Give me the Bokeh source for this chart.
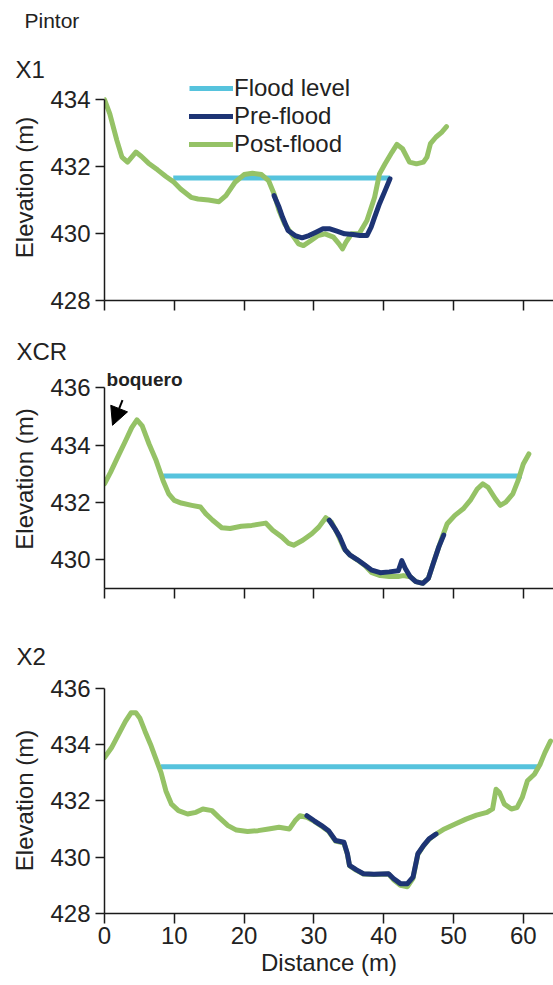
from bokeh.plotting import figure
from bokeh.models import (Range1d, FixedTicker, Legend, LegendItem, Label, Arrow, NormalHead, Title,
                          CustomLabelingPolicy)
from bokeh.layouts import column
from bokeh.embed import file_html
from bokeh.resources import INLINE

# ---------------- data ----------------
x1_post_x = [0, 0.76, 1.77, 2.5, 3.3, 4.5, 5.3, 6.3, 7.6, 8.8, 9.85, 10.9, 12.4, 13.4, 14.9, 16.4, 17.4, 18.7, 20.0, 21.2,
             22.5, 23.5, 24.3, 25.0, 25.8, 26.8, 27.8, 28.5, 29.6, 30.6, 31.6, 32.8, 33.6, 34.1, 34.6, 35.4, 36.5, 37.6, 38.7, 39.4,
             40.2, 41.2, 41.9, 42.7, 43.7, 44.7, 45.7, 46.2, 46.7, 47.5, 48.3, 49.0]
x1_post_y = [434.0, 433.57, 432.78, 432.28, 432.13, 432.43, 432.3, 432.1, 431.9, 431.7, 431.55, 431.33, 431.08, 431.03, 431.0, 430.95, 431.13, 431.53, 431.76, 431.8,
             431.76, 431.58, 431.18, 430.69, 430.29, 429.99, 429.69, 429.64, 429.79, 429.94, 429.99, 429.89, 429.69, 429.54, 429.74, 429.99, 430.0, 430.39, 431.08, 431.78,
             432.08, 432.43, 432.66, 432.53, 432.13, 432.08, 432.13, 432.28, 432.68, 432.88, 433.02, 433.19]
x1_pre_x = [24.3, 25.0, 25.5, 26.3, 27.3, 28.3, 29.3, 30.3, 31.3, 32.3, 33.3, 34.4, 35.6, 36.6, 37.6, 38.2, 38.7, 39.4, 40.2, 40.9]
x1_pre_y = [431.13, 430.79, 430.49, 430.09, 429.94, 429.87, 429.94, 430.04, 430.14, 430.14, 430.07, 429.99, 429.97, 429.94, 429.94, 430.19, 430.49, 430.89, 431.28, 431.63]
x1_flood_x = [9.85, 40.9]
x1_flood_y = [431.66, 431.66]

xcr_post_x = [0, 0.86, 1.87, 2.9, 3.9, 4.65, 5.4, 6.4, 7.4, 8.4, 9.2, 10.0, 11.0, 12.5, 13.75, 14.5, 15.5, 16.8, 18.0, 19.6,
              21.1, 23.1, 24.1, 25.4, 26.4, 27.1, 28.4, 29.7, 30.7, 31.7, 32.5, 33.3, 34.3, 35.2, 36.2, 37.3, 38.3, 39.5, 40.8, 42.1,
              42.8, 43.8, 44.6, 45.6, 46.4, 47.1, 47.9, 48.4, 49.1, 50.2, 51.4, 52.4, 53.4, 54.2, 54.95, 56.0, 56.7, 57.5, 58.5, 59.25,
              60.0, 60.8]
xcr_post_y = [432.65, 433.05, 433.57, 434.09, 434.61, 434.88, 434.67, 434.03, 433.46, 432.76, 432.3, 432.07, 431.98, 431.9, 431.84, 431.61, 431.38, 431.12, 431.09, 431.17,
              431.2, 431.28, 431.03, 430.8, 430.57, 430.51, 430.68, 430.91, 431.14, 431.47, 431.32, 430.95, 430.4, 430.16, 430.0, 429.8, 429.55, 429.45, 429.42, 429.42,
              429.45, 429.41, 429.24, 429.18, 429.35, 429.87, 430.45, 430.8, 431.26, 431.55, 431.78, 432.07, 432.47, 432.65, 432.53, 432.13, 431.9, 432.01, 432.3, 432.76,
              433.34, 433.69]
xcr_pre_x = [32.2, 33.0, 33.7, 34.5, 35.2, 36.2, 37.3, 38.3, 39.5, 40.8, 42.1, 42.6, 43.1, 43.8, 44.6, 45.6, 46.4, 47.1, 47.9, 48.6]
xcr_pre_y = [431.38, 431.09, 430.8, 430.34, 430.16, 430.01, 429.82, 429.64, 429.55, 429.58, 429.62, 429.97, 429.7, 429.41, 429.24, 429.18, 429.35, 429.87, 430.45, 430.86]
xcr_flood_x = [8.4, 59.8]
xcr_flood_y = [432.92, 432.92]

x2_post_x = [0, 1.0, 2.0, 3.0, 3.8, 4.5, 5.05, 5.8, 6.6, 7.3, 8.1, 8.8, 9.6, 10.6, 11.9, 13.1, 14.1, 15.4, 16.4, 17.7,
             18.9, 20.5, 22.0, 23.5, 25.0, 26.5, 27.3, 28.0, 29.0, 30.05, 31.1, 32.1, 33.1, 34.3, 34.8, 35.1, 36.1, 37.1, 38.6, 40.7,
             41.4, 42.4, 43.4, 44.2, 44.9, 45.7, 46.5, 47.5, 48.7, 50.25, 51.8, 53.3, 54.8, 55.6, 56.1, 56.6, 57.3, 58.3, 59.1, 59.85,
             60.6, 61.6, 62.4, 63.1, 63.9]
x2_post_y = [433.53, 433.88, 434.35, 434.82, 435.12, 435.12, 434.94, 434.47, 434.0, 433.53, 433.0, 432.35, 431.88, 431.65, 431.53, 431.59, 431.71, 431.65, 431.41, 431.12,
             430.96, 430.91, 430.94, 431.0, 431.06, 431.0, 431.29, 431.47, 431.41, 431.27, 431.1, 430.92, 430.57, 430.5, 430.1, 429.7, 429.53, 429.4, 429.38, 429.4,
             429.2, 429.0, 428.95, 429.25, 430.1, 430.4, 430.63, 430.82, 431.0, 431.18, 431.35, 431.49, 431.59, 431.71, 432.41, 432.29, 431.88, 431.71, 431.76, 432.12,
             432.71, 432.94, 433.29, 433.71, 434.12]
x2_pre_x = [29.0, 30.05, 31.1, 32.1, 33.1, 34.3, 34.8, 35.1, 36.1, 37.1, 38.6, 40.7, 41.4, 42.4, 43.4, 44.2, 44.9, 45.7, 46.5, 47.5]
x2_pre_y = [431.47, 431.29, 431.12, 430.94, 430.59, 430.53, 430.12, 429.71, 429.55, 429.41, 429.39, 429.41, 429.24, 429.06, 429.06, 429.29, 430.12, 430.41, 430.65, 430.82]
x2_flood_x = [8.1, 62.4]
x2_flood_y = [433.21, 433.21]

x_ticks = [0, 10, 20, 30, 40, 50, 60]
y_ticks_x1 = [428, 430, 432, 434]
y_ticks_xcr = [430, 432, 434, 436]
y_ticks_x2 = [428, 430, 432, 434, 436]

series_names = ["Flood level", "Pre-flood", "Post-flood"]
panel_titles = ["X1", "XCR", "X2"]
site_name = "Pintor"

# ---------------- style ----------------
FONT = "Liberation Sans"
TXT = "#222222"
AXC = "#1a1a1a"
C_FLOOD = "#56c3dd"
C_PRE = "#1d3474"
C_POST = "#95c266"
LW = 5
FS = "24px"
XMAX = 64.33
W = 553

no_labels = CustomLabelingPolicy(code="""
    const result = new Set()
    return result
""")


def make_panel(height, b_top, b_bottom, y0, y1, yticks, ybounds, show_xlabels):
    p = figure(width=W, height=height, x_range=Range1d(0, XMAX), y_range=Range1d(y0, y1),
               output_backend="svg", toolbar_location=None, title=None,
               min_border_left=104, min_border_right=0, min_border_top=b_top, min_border_bottom=b_bottom)
    p.outline_line_color = None
    p.xgrid.visible = False
    p.ygrid.visible = False
    p.background_fill_color = "white"
    p.border_fill_color = "white"
    for ax in (p.xaxis[0], p.yaxis[0]):
        ax.axis_line_color = AXC
        ax.axis_line_width = 1.5
        ax.major_tick_line_color = AXC
        ax.major_tick_line_width = 1.5
        ax.major_tick_in = 0
        ax.minor_tick_in = 0
        ax.minor_tick_out = 0
        ax.major_label_text_font = FONT
        ax.major_label_text_font_size = FS
        ax.major_label_text_color = TXT
        ax.axis_label_text_font = FONT
        ax.axis_label_text_font_size = FS
        ax.axis_label_text_font_style = "normal"
        ax.axis_label_text_color = TXT
    p.yaxis.ticker = FixedTicker(ticks=yticks)
    p.yaxis.bounds = ybounds
    p.yaxis.major_tick_out = 9
    p.yaxis.major_label_standoff = 5
    p.yaxis.axis_label = "Elevation (m)"
    p.yaxis.axis_label_standoff = 9
    p.xaxis.ticker = FixedTicker(ticks=x_ticks)
    p.xaxis.major_tick_out = 10
    if show_xlabels:
        p.xaxis.major_label_standoff = 3
        p.xaxis.axis_label = "Distance (m)"
        p.xaxis.axis_label_standoff = 2
    else:
        p.xaxis.major_label_policy = no_labels
        p.xaxis.major_label_text_font_size = "1px"
        p.xaxis.major_label_standoff = 0
    return p


def draw(p, fx, fy, prex, prey, postx, posty):
    rf = p.line(fx, fy, line_color=C_FLOOD, line_width=LW)
    rpost = p.line(postx, posty, line_color=C_POST, line_width=LW, line_join="round", line_cap="round")
    rpre = p.line(prex, prey, line_color=C_PRE, line_width=LW, line_join="round", line_cap="round")
    return rf, rpre, rpost


def side_title(text, offset, standoff, size=FS):
    return Title(text=text, align="left", offset=offset, standoff=standoff,
                 text_font=FONT, text_font_size=size, text_font_style="normal", text_color=TXT)


# Header (site name)
p0 = figure(width=W, height=48, x_range=Range1d(0, 1), y_range=Range1d(0, 1),
            x_axis_type=None, y_axis_type=None, output_backend="svg", toolbar_location=None, title=None,
            min_border_left=104, min_border_right=0, min_border_top=0, min_border_bottom=0)
p0.outline_line_color = None
p0.add_layout(side_title(site_name, -80, 12, size="21px"), "above")

# Panel X1
p1 = make_panel(272, 26, 20, 428, 434.746, y_ticks_x1, (428, 434), False)
rf, rpre, rpost = draw(p1, x1_flood_x, x1_flood_y, x1_pre_x, x1_pre_y, x1_post_x, x1_post_y)
legend = Legend(items=[LegendItem(label=series_names[0], renderers=[rf]),
                       LegendItem(label=series_names[1], renderers=[rpre]),
                       LegendItem(label=series_names[2], renderers=[rpost])],
                location=(85, 142), orientation="vertical",
                label_text_font=FONT, label_text_font_size=FS, label_text_color=TXT,
                glyph_width=44, glyph_height=28, label_height=28, spacing=0, padding=0, margin=0,
                border_line_color=None, background_fill_alpha=0, label_standoff=1)
p1.add_layout(legend)
p1.add_layout(side_title(panel_titles[0], -89, -16), "above")

# Panel XCR
p2 = make_panel(292, 49, 24, 429.0, 436.636, y_ticks_xcr, (429.0, 436), False)
draw(p2, xcr_flood_x, xcr_flood_y, xcr_pre_x, xcr_pre_y, xcr_post_x, xcr_post_y)
p2.add_layout(side_title(panel_titles[1], -88, 10), "above")
p2.add_layout(Label(x=0.29, y=436.29, text="boquero", text_font=FONT, text_font_size="19px",
                    text_font_style="bold", text_color=TXT, text_baseline="middle", text_align="left"))
p2.add_layout(Arrow(end=NormalHead(size=18, fill_color="black", line_color="black"),
                    x_start=2.58, y_start=435.57, x_end=1.15, y_end=434.69,
                    line_color="black", line_width=2))

# Panel X2
p3 = make_panel(373, 75, 72, 428, 436.02, y_ticks_x2, (428, 436), True)
draw(p3, x2_flood_x, x2_flood_y, x2_pre_x, x2_pre_y, x2_post_x, x2_post_y)
p3.add_layout(side_title(panel_titles[2], -88, 36), "above")

layout = column(p0, p1, p2, p3, spacing=0)
open("out.html", "w").write(file_html(layout, INLINE))
